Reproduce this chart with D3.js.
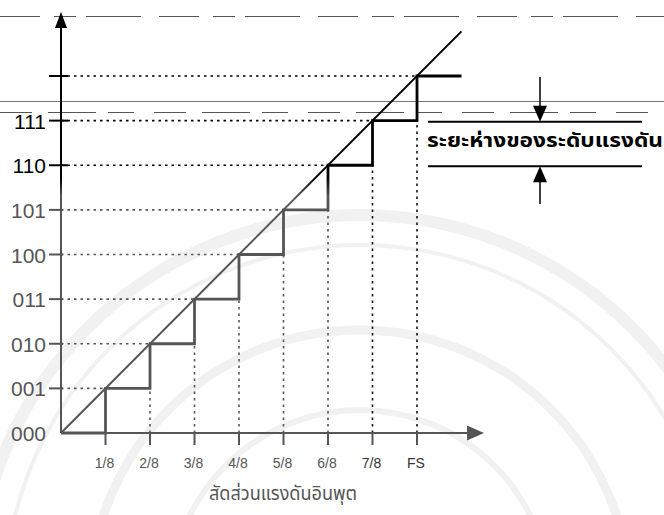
<!DOCTYPE html>
<html>
<head>
<meta charset="utf-8">
<script src="https://cdn.jsdelivr.net/npm/d3@7"></script>
<style>
  html, body { margin: 0; padding: 0; background: #fff; }
  svg { display: block; }
</style>
</head>
<body>
<script>
// ---------- data ----------
const inputSteps = [1, 2, 3, 4, 5, 6, 7, 8];                 // input in eighths of full scale
const xTickLabels = ["1/8", "2/8", "3/8", "4/8", "5/8", "6/8", "7/8", "FS"];
const codeLevels = [0, 1, 2, 3, 4, 5, 6, 7, 8];               // output code levels
const codeLabels = ["000", "001", "010", "011", "100", "101", "110", "111", ""];
const stairX = [0, 1, 2, 3, 4, 5, 6, 7, 8, 9];
const stairY = [0, 1, 2, 3, 4, 5, 6, 7, 8, 8];
const idealLine = [[0, 0], [9, 9]];
const xTitle = "สัดส่วนแรงดันอินพุต";
const noteText = "ระยะห่างของระดับแรงดัน";
const noteLevels = [7, 6];   // the two code levels the annotation spans

// ---------- layout ----------
const W = 664, H = 515;
const x = d3.scaleLinear().domain([0, 8]).range([61, 417]);
const y = d3.scaleLinear().domain([0, 8]).range([433, 76]);

const svg = d3.select("body").append("svg").attr("width", W).attr("height", H);
const defs = svg.append("defs");

// scan ink: black in the upper part, grey lower down
const ink = defs.append("linearGradient").attr("id", "ink")
  .attr("gradientUnits", "userSpaceOnUse")
  .attr("x1", 0).attr("y1", 0).attr("x2", 0).attr("y2", H);
ink.append("stop").attr("offset", 178 / H).attr("stop-color", "#000");
ink.append("stop").attr("offset", 196 / H).attr("stop-color", "#555");
ink.append("stop").attr("offset", 1).attr("stop-color", "#555");

// ---------- faint watermark ----------
const wm = svg.append("g").attr("fill", "none").attr("stroke", "#f1f1f1");
wm.append("circle").attr("cx", 360).attr("cy", 600).attr("r", 385).attr("stroke-width", 12);
wm.append("circle").attr("cx", 360).attr("cy", 600).attr("r", 355).attr("stroke-width", 4);
wm.append("circle").attr("cx", 360).attr("cy", 600).attr("r", 270).attr("stroke-width", 9);
wm.append("circle").attr("cx", 360).attr("cy", 600).attr("r", 190).attr("stroke-width", 6);

// ---------- scan page lines ----------
const scan = svg.append("g").attr("stroke", "#555").attr("stroke-width", 1).attr("fill", "none");
scan.append("line").attr("x1", 0).attr("x2", W).attr("y1", 16.5).attr("y2", 16.5)
  .attr("stroke-dasharray", "40,14,22,10,55,18");
scan.append("line").attr("x1", 0).attr("x2", W).attr("y1", 101.5).attr("y2", 101.5).attr("stroke", "#777");
scan.append("line").attr("x1", 0).attr("x2", W).attr("y1", 112.5).attr("y2", 112.5)
  .attr("stroke-dasharray", "32,16,48,12,26,20");

// ---------- dotted guide lines ----------
const guides = svg.append("g").attr("fill", "none").attr("stroke-width", 1.6)
  .attr("stroke-dasharray", "2.5,4");
guides.selectAll("line.h").data(inputSteps).join("line").attr("class", "h")
  .attr("x1", x(0)).attr("x2", d => x(d))
  .attr("y1", d => y(d)).attr("y2", d => y(d))
  .attr("stroke", "url(#ink)");
guides.selectAll("line.v").data(inputSteps).join("line").attr("class", "v")
  .attr("x1", d => x(d)).attr("x2", d => x(d))
  .attr("y1", y(0)).attr("y2", d => y(d - 1))
  .attr("stroke", d => d >= 7 ? "#111" : "#555");

// ---------- axes ----------
const axes = svg.append("g").attr("stroke", "url(#ink)").attr("stroke-width", 2).attr("fill", "none");
axes.append("line").attr("x1", x(0)).attr("x2", x(0)).attr("y1", y(0)).attr("y2", 26);
svg.append("path").attr("d", `M${x(0)},12 L${x(0) - 6},28 L${x(0) + 6},28 Z`).attr("fill", "#000");
axes.append("line").attr("x1", x(0)).attr("x2", 470).attr("y1", y(0)).attr("y2", y(0));
svg.append("path").attr("d", `M484,${y(0)} L467,${y(0) - 7.5} L467,${y(0) + 7.5} Z`).attr("fill", "#555");

// y ticks + labels
const yT = svg.append("g");
yT.selectAll("line").data(codeLevels.slice(1)).join("line")
  .attr("x1", 49).attr("x2", d => d >= 6 ? 68 : 63)
  .attr("y1", d => y(d)).attr("y2", d => y(d))
  .attr("stroke", "url(#ink)").attr("stroke-width", 2);
yT.selectAll("text").data(codeLevels.filter(d => codeLabels[d])).join("text")
  .attr("x", 46).attr("y", d => y(d) + 8)
  .attr("text-anchor", "end")
  .attr("font-family", "'Liberation Sans', Arial, sans-serif")
  .attr("font-size", 21)
  .attr("fill", d => d >= 6 ? "#000" : "#555")
  .text(d => codeLabels[d]);

// x ticks + labels
const xT = svg.append("g");
xT.selectAll("line").data(inputSteps).join("line")
  .attr("x1", d => x(d)).attr("x2", d => x(d))
  .attr("y1", y(0)).attr("y2", y(0) + 12)
  .attr("stroke", "#555").attr("stroke-width", 2);
xT.selectAll("text").data(inputSteps).join("text")
  .attr("x", d => x(d) - 1).attr("y", 468)
  .attr("text-anchor", "middle")
  .attr("font-family", "'Liberation Sans Narrow', 'Liberation Sans', Arial, sans-serif")
  .attr("font-size", 14)
  .attr("fill", d => d >= 7 ? "#333" : "#555")
  .text((d, i) => xTickLabels[i]);

svg.append("text").attr("x", 209).attr("y", 500)
  .attr("font-family", "'Noto Sans Thai', 'Noto Sans', sans-serif")
  .attr("font-size", 20).attr("fill", "#555")
  .attr("textLength", 148).attr("lengthAdjust", "spacingAndGlyphs")
  .text(xTitle);

// ---------- ideal transfer line ----------
svg.append("line")
  .attr("x1", x(idealLine[0][0])).attr("y1", y(idealLine[0][1]))
  .attr("x2", x(idealLine[1][0])).attr("y2", y(idealLine[1][1]))
  .attr("stroke", "url(#ink)").attr("stroke-width", 2);

// ---------- staircase ----------
const stair = d3.line().curve(d3.curveStepAfter)
  .x(i => x(stairX[i])).y(i => y(stairY[i]));
svg.append("path").attr("d", stair(d3.range(stairX.length)))
  .attr("fill", "none").attr("stroke", "url(#ink)").attr("stroke-width", 2.8);

// ---------- annotation ----------
const ann = svg.append("g");
noteLevels.forEach(l => {
  ann.append("line").attr("x1", 428).attr("x2", 642)
    .attr("y1", y(l) + 1).attr("y2", y(l) + 1)
    .attr("stroke", "#000").attr("stroke-width", 2);
});
const yTop = y(noteLevels[0]) + 1, yBot = y(noteLevels[1]) + 1;
ann.append("line").attr("x1", 540).attr("x2", 540).attr("y1", 77).attr("y2", yTop - 10)
  .attr("stroke", "#000").attr("stroke-width", 1.5);
ann.append("path").attr("d", `M540,${yTop} L533,${yTop - 16} L547,${yTop - 16} Z`).attr("fill", "#000");
ann.append("line").attr("x1", 540).attr("x2", 540).attr("y1", yBot + 10).attr("y2", 204)
  .attr("stroke", "#000").attr("stroke-width", 1.5);
ann.append("path").attr("d", `M540,${yBot} L533,${yBot + 16} L547,${yBot + 16} Z`).attr("fill", "#000");
ann.append("text").attr("x", 427).attr("y", 147)
  .attr("font-family", "'Noto Sans Thai', 'Noto Sans', sans-serif")
  .attr("font-size", 19).attr("font-weight", "bold").attr("fill", "#000")
  .attr("textLength", 236).attr("lengthAdjust", "spacingAndGlyphs")
  .text(noteText);
</script>
</body>
</html>
